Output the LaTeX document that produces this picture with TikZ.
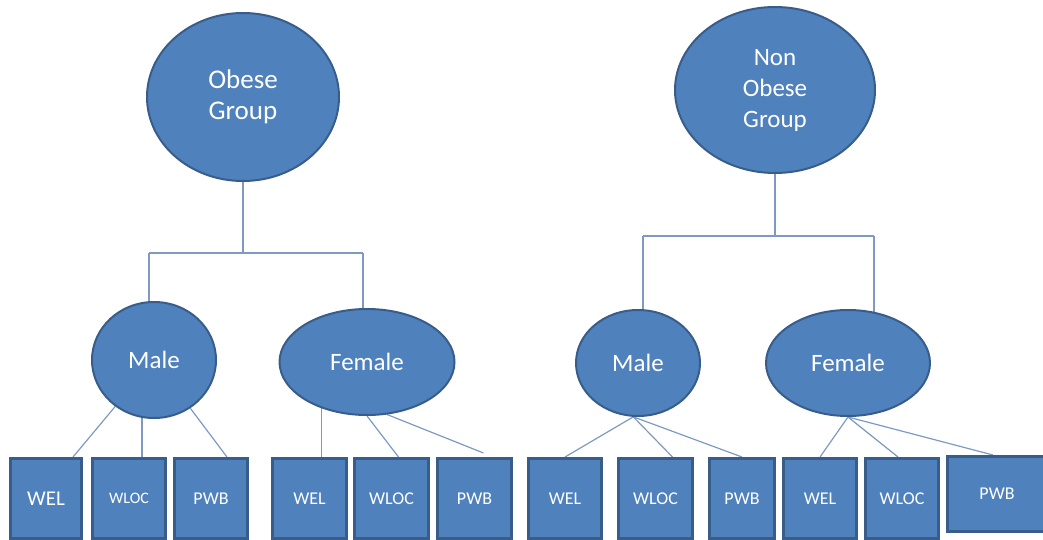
\documentclass[tikz,border=0pt]{standalone}
\usepackage{fontspec}
\setmainfont{Carlito}
\usetikzlibrary{shapes.geometric,backgrounds}

\definecolor{fillblue}{HTML}{4F81BD}
\definecolor{edgeblue}{HTML}{385D8A}
\definecolor{linkblue}{HTML}{7E99C4}

\begin{document}
\begin{tikzpicture}[
    x = 1pt, y = -1pt, % one unit per pixel, y downwards
    link/.style = {draw = linkblue, line width = 1.2pt}, % connector lines
    ]

    \tikzset{group/.style={
    ellipse,
    draw = edgeblue,
    line width = 2pt,
    fill = fillblue,
    text = white,
    inner sep = 0pt,
    align = center,
    font = \fontsize{25}{31}\selectfont
    }}
    \tikzset{measure/.style={
    rectangle,
    draw = edgeblue,
    line width = 3pt,
    fill = fillblue,
    text = white,
    inner sep = 0pt,
    minimum width = 73pt,
    minimum height = 80pt,
    font = \fontsize{18}{22}\selectfont
    }}

    \useasboundingbox (0,0) rectangle (1043,540);

    % groups
    \node[group, minimum width=192pt, minimum height=168pt, font=\fontsize{27}{31}\selectfont] (obese) at (243,97) {Obese\\Group};
    \node[group, minimum width=200pt, minimum height=166pt] (nonobese) at (775,90) {Non\\Obese\\Group};

    \node[group, minimum width=124pt, minimum height=116pt] (male1) at (154,360) {Male};
    \node[group, minimum width=175pt, minimum height=106pt] (female1) at (367,362) {Female};
    \node[group, minimum width=124pt, minimum height=106pt] (male2) at (638,363) {Male};
    \node[group, minimum width=164pt, minimum height=106pt] (female2) at (848,363) {Female};

    % measures
    \node[measure, minimum width=71pt, font=\fontsize{21}{25}\selectfont] (wel1) at (46,498.5) {WEL};
    \node[measure, font=\fontsize{16}{20}\selectfont] (wloc1) at (129,498.5) {WLOC};
    \node[measure] (pwb1) at (211,498.5) {PWB};
    \node[measure, minimum width=74pt] (wel2) at (309.5,498.5) {WEL};
    \node[measure, minimum width=74pt] (wloc2) at (391.5,498.5) {WLOC};
    \node[measure, minimum width=74pt] (pwb2) at (474.5,498.5) {PWB};

    \node[measure] (wel3) at (565,498.5) {WEL};
    \node[measure, minimum width=74pt] (wloc3) at (655.5,498.5) {WLOC};
    \node[measure, minimum width=65pt] (pwb3) at (742,498.5) {PWB};
    \node[measure] (wel4) at (820,498.5) {WEL};
    \node[measure] (wloc4) at (902,498.5) {WLOC};
    \node[measure, minimum width=100pt, minimum height=75pt] (pwb4) at (997,494) {PWB};

    \coordinate (jAl) at (149,253);
    \coordinate (jAr) at (363,253);
    \coordinate (jBl) at (643,236);
    \coordinate (jBr) at (874,236);

    \begin{scope}[on background layer]
    % obese tree
    \draw[link] (obese) -- (obese |- jAl);
    \draw[link] (jAl) -- (jAr);
    \draw[link] (jAl) -- (jAl |- male1);
    \draw[link] (jAr) -- (jAr |- female1);

    \draw[link] (male1) -- ([xshift=-10pt]wel1.north east);
    \draw[link] ([xshift=13pt]wloc1.north) -- ([xshift=13pt]wloc1.north |- male1);
    \draw[link] (male1) -- ([xshift=-22pt]pwb1.north east);

    \draw[link] ([xshift=12pt]wel2.north) -- ([xshift=12pt]wel2.north |- female1);
    \draw[link] (female1.south) -- ([xshift=7pt]wloc2.north);
    \draw[link] (female1.291) -- ([xshift=9pt,yshift=4pt]pwb2.north);

    % non obese tree
    \draw[link] (nonobese) -- (nonobese |- jBl);
    \draw[link] (jBl) -- (jBr);
    \draw[link] (jBl) -- (jBl |- male2);
    \draw[link] (jBr) -- (jBr |- female2);

    \draw[link] (male2.265) -- (wel3.north);
    \draw[link] (male2.265) -- ([xshift=17pt]wloc3.north);
    \draw[link] (male2.265) -- (pwb3.north);

    \draw[link] (female2.south) -- (wel4.north);
    \draw[link] (female2.south) -- ([xshift=-4pt]wloc4.north);
    \draw[link] (female2.south) -- ([xshift=-4pt]pwb4.north);
    \end{scope}
\end{tikzpicture}
\end{document}
